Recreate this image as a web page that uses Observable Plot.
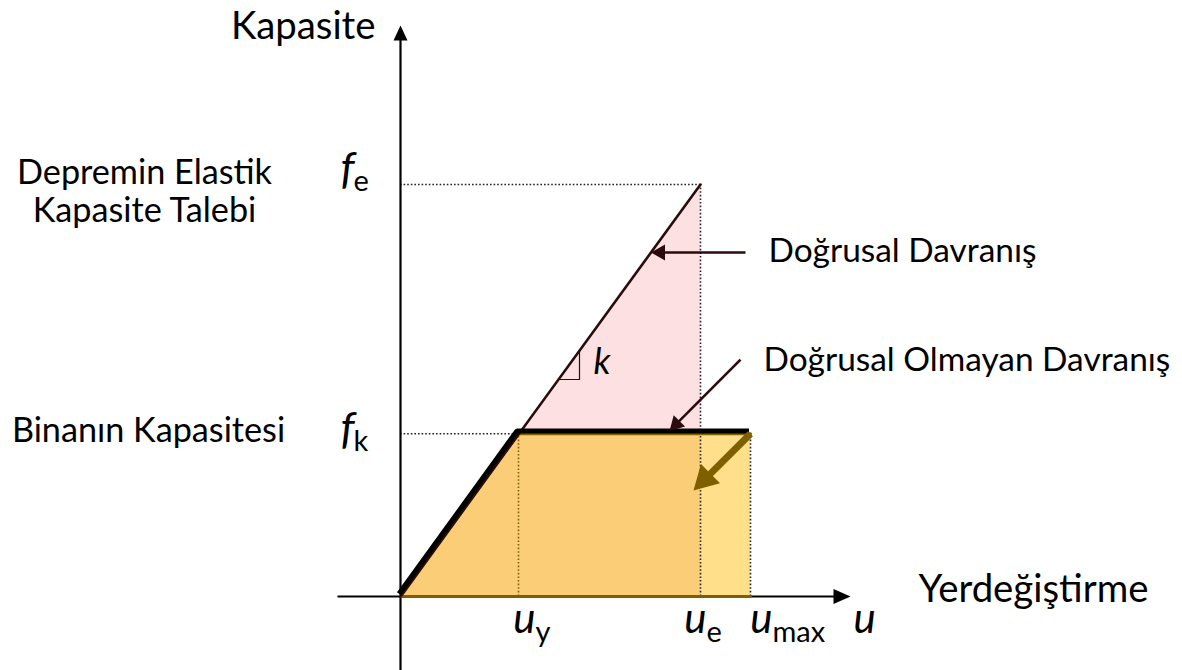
<!DOCTYPE html>
<html><head><meta charset="utf-8">
<script src="https://cdn.jsdelivr.net/npm/d3@7"></script>
<script src="https://cdn.jsdelivr.net/npm/@observablehq/plot@0.6"></script>
<style>body{margin:0;background:#fff;} svg{display:block}</style>
</head><body><div id="chart"></div>
<script>
// ---------------- data ----------------
const dispSubs   = ["y", "e", "max"];          // u_y, u_e, u_max
const dispValues = [1.18, 3.0, 3.5];
const forceSubs   = ["k", "e"];                // f_k, f_e
const forceValues = [0.395, 1.0];
const levelNames = ["Binanın Kapasitesi", "Depremin Elastik\nKapasite Talebi"];
const curveNames = ["Doğrusal Davranış", "Doğrusal Olmayan Davranış"];
const axisTitles = ["Kapasite", "Yerdeğiştirme"];
const axisSymbol = "u";
const slopeSymbol = "k";

// ---------------- layout ----------------
const [uy, ue, umax] = dispValues;
const [fk, fe] = forceValues;
const W = 1182, H = 670;
const xDomain = [-4, 7.82];
const yDomain = [-74 / 412, 596 / 412];
const sx = d3.scaleLinear(xDomain, [0, W]);
const sy = d3.scaleLinear(yDomain, [H, 0]);
const FONT = "Lato";

const cv = document.createElement("canvas").getContext("2d");
function fit(text, target, style = "") {
  cv.font = `${style} 100px ${FONT}`;
  return 100 * target / cv.measureText(text).width;
}

function arrow(x1, y1, x2, y2, len, wid, color, sw) {
  const px1 = sx(x1), py1 = sy(y1), px2 = sx(x2), py2 = sy(y2);
  const d = Math.hypot(px2 - px1, py2 - py1);
  const ux = (px2 - px1) / d, uv = (py2 - py1) / d;
  const ex = sx.invert(px2 - ux * (len - 1)), ey = sy.invert(py2 - uv * (len - 1));
  const angle = Math.atan2(uv, ux) * 180 / Math.PI + 90;
  const head = {draw(ctx) { ctx.moveTo(0, 0); ctx.lineTo(-wid / 2, len); ctx.lineTo(wid / 2, len); ctx.closePath(); }};
  return [
    Plot.line([[x1, y1], [ex, ey]], {stroke: color, strokeWidth: sw, strokeLinecap: "butt"}),
    Plot.dot([[x2, y2]], {symbol: head, r: 5, rotate: angle, fill: color})
  ];
}

const xAxisMin = -0.63, xAxisMax = 4.5, yAxisMax = 1.386;
const dark = "#2B0B0B", brown = "#7F6000";
const dots = {stroke: "#222", strokeWidth: 1.6, strokeDasharray: "1.6 2"};

// annotation points
const linY = 0.835;
const nlTip = [2.69, fk], nlStart = [3.40, 0.575];
const brTip = [2.93, 0.257];
const legA = 1.58, legB = 1.79;
const yOn = x => x * fe / ue;

const uDx = [6, -5, 11];
const fDy = [10, -1];

const sizeLevel = fit("Depremin Elastik", 255);
const sizeCurve = fit(curveNames[1], 407);
const sizeTitle = fit(axisTitles[1], 230);

const marks = [
  Plot.areaY([[0, 0], [ue, fe]], {x: d => d[0], y: d => d[1], fill: "#FDE0E2"}),
  Plot.areaY([[0, 0], [uy, fk], [ue, fk]], {x: d => d[0], y: d => d[1], fill: "#FCCD77"}),
  Plot.areaY([[ue, fk], [umax, fk]], {x: d => d[0], y: d => d[1], fill: "#FFDF8A"}),
  Plot.ruleY([fe], {x1: 0, x2: ue, ...dots}),
  Plot.ruleX([ue], {y1: 0, y2: fe, ...dots}),
  Plot.ruleY([fk], {x1: 0, x2: uy, ...dots}),
  Plot.ruleX([uy], {y1: 0, y2: fk, ...dots, stroke: brown}),
  Plot.ruleX([umax], {y1: 0, y2: fk, ...dots}),
  ...arrow(xAxisMin, 0, xAxisMax, 0, 17, 15, "#000", 2.2),
  ...arrow(0, yDomain[0], 0, yAxisMax, 15, 14, "#000", 2.2),
  Plot.line([[umax, 0], [0, 0], [uy, fk], [umax, fk]], {stroke: brown, strokeWidth: 3, strokeLinejoin: "miter"}),
  Plot.line([[0, 0], [ue, fe]], {stroke: dark, strokeWidth: 2.6}),
  Plot.line([[0, 0], [uy, fk], [umax, fk]], {stroke: "#000", strokeWidth: 5, dx: -1.5, dy: -2.8, strokeLinejoin: "miter", strokeLinecap: "butt"}),
  Plot.line([[legA, yOn(legA)], [legB, yOn(legA)], [legB, yOn(legB)]], {stroke: dark, strokeWidth: 1.2}),
  Plot.text([slopeSymbol], {x: legB, y: yOn(legA), text: d => d, dx: 14, dy: -6, textAnchor: "start", lineAnchor: "bottom", fontFamily: FONT, fontStyle: "italic", fontSize: 36, fill: "#000"}),
  ...arrow(3.45, linY, linY * ue / fe, linY, 14, 16, dark, 2.6),
  ...arrow(nlStart[0], nlStart[1], nlTip[0], nlTip[1] + 0.007, 14, 16, dark, 2.6),
  ...arrow(umax, fk, brTip[0], brTip[1], 24, 27, brown, 7),
  Plot.text([curveNames[0]], {x: 3.45, y: linY, text: d => d, dx: 23, dy: 10, textAnchor: "start", lineAnchor: "bottom", fontFamily: FONT, fontSize: sizeCurve, fill: "#000"}),
  Plot.text([curveNames[1]], {x: nlStart[0], y: nlStart[1], text: d => d, dx: 23, dy: 11, textAnchor: "start", lineAnchor: "bottom", fontFamily: FONT, fontSize: sizeCurve, fill: "#000"}),
  Plot.text([levelNames[0]], {x: -2.52, y: fk, text: d => d, dy: 8, textAnchor: "middle", lineAnchor: "bottom", fontFamily: FONT, fontSize: sizeLevel, fill: "#000"}),
  Plot.text([levelNames[1]], {x: -2.56, y: fe, text: d => d, dy: 37, textAnchor: "middle", lineAnchor: "bottom", lineHeight: 38 / sizeLevel, fontFamily: FONT, fontSize: sizeLevel, fill: "#000"}),
  Plot.text([axisTitles[0]], {x: 0, y: yAxisMax, text: d => d, dx: -25, dy: 14, textAnchor: "end", lineAnchor: "bottom", fontFamily: FONT, fontSize: sizeTitle, fill: "#000"}),
  Plot.text([axisTitles[1]], {x: xAxisMax, y: 0, text: d => d, dx: 68, dy: 5, textAnchor: "start", lineAnchor: "bottom", fontFamily: FONT, fontSize: sizeTitle, fill: "#000"}),
  Plot.text([axisSymbol], {x: xAxisMax, y: 0, text: d => d, dx: 3, dy: 36, textAnchor: "start", lineAnchor: "bottom", fontFamily: FONT, fontStyle: "italic", fontSize: 42, fill: "#000"}),
  ...dispValues.flatMap((v, i) => [
    Plot.text([axisSymbol], {x: v, y: 0, text: d => d, dx: uDx[i] + 11, dy: 36, textAnchor: "end", lineAnchor: "bottom", fontFamily: FONT, fontStyle: "italic", fontSize: 42, fill: "#000"}),
    Plot.text([dispSubs[i]], {x: v, y: 0, text: d => d, dx: uDx[i] + 11, dy: 45, textAnchor: "start", lineAnchor: "bottom", fontFamily: FONT, fontSize: 29, fill: "#000"})
  ]),
  ...forceValues.flatMap((v, i) => [
    Plot.text(["f"], {x: 0, y: v, text: d => d, dx: -46, dy: fDy[i], textAnchor: "end", lineAnchor: "bottom", fontFamily: FONT, fontStyle: "italic", fontSize: 44, fill: "#000"}),
    Plot.text([forceSubs[i]], {x: 0, y: v, text: d => d, dx: -47, dy: fDy[i] + 7, textAnchor: "start", lineAnchor: "bottom", fontFamily: FONT, fontSize: 29, fill: "#000"})
  ])
];

const chart = Plot.plot({
  width: W, height: H,
  margin: 0,
  style: {background: "#fff"},
  x: {domain: xDomain, axis: null},
  y: {domain: yDomain, axis: null},
  marks
});
document.getElementById("chart").appendChild(chart);
</script>
</body></html>
